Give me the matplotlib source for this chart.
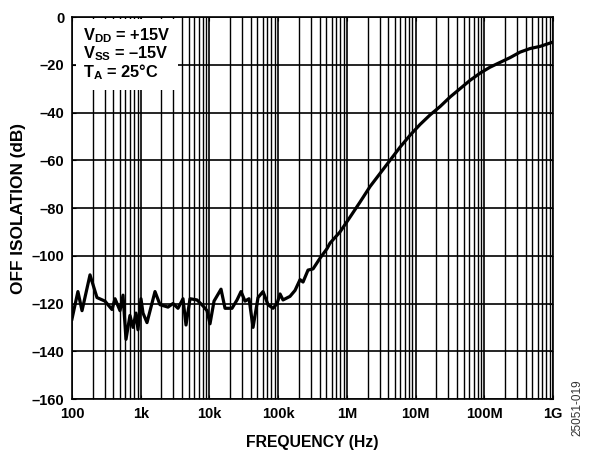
import numpy as np
import matplotlib
matplotlib.use("Agg")
import matplotlib.pyplot as plt
from matplotlib.ticker import LogLocator, NullFormatter

plt.rcParams['font.family'] = ['Liberation Sans', 'DejaVu Sans']
plt.rcParams['font.weight'] = 'bold'
plt.rcParams['mathtext.fontset'] = 'custom'
plt.rcParams['mathtext.rm'] = 'Liberation Sans:bold'
plt.rcParams['mathtext.bf'] = 'Liberation Sans:bold'

# OFF isolation vs frequency
freq_hz = [100, 122, 140, 183, 231, 302, 382, 423, 500, 553,
           611, 698, 773, 854, 913, 1010, 1080, 1235, 1615, 1910,
           2497, 2951, 3490, 4127, 4564, 5220, 6600, 8070, 9230, 10200,
           11670, 14750, 16870, 21320, 25230, 28840, 32980, 37710, 43130, 50990,
           60280, 71270, 84260, 96350, 106600, 117800, 148900, 176200, 208300, 230300,
           272300, 322200, 407300, 515200,
           569200, 795800, 1.113e6, 1.556e6, 2.176e6, 3.043e6, 4.255e6, 5.95e6,
           8.32e6, 1.163e7, 1.626e7, 2.274e7, 3.18e7, 4.446e7, 6.217e7, 8.69e7,
           1.215e8, 1.699e8, 2.376e8, 3.32e8, 4.64e8, 6.49e8, 1e9]
isolation_db = [-126.5, -115, -123, -108, -117.5, -119, -122.5, -118, -123, -116.5,
                -135, -125, -130, -124, -131, -118, -124, -128, -115, -120.5,
                -121.5, -120, -122, -118, -129, -118, -118.5, -121, -123, -128.5,
                -119, -114, -122, -122, -118.5, -115, -119, -118, -130, -117.5,
                -115, -120.5, -122, -120, -116, -118.5, -117, -114.5, -110, -111,
                -106, -105.5, -101, -97,
                -94.7, -90, -83.8, -77.5, -71, -65.5, -60, -54.5,
                -49.5, -45, -41, -37.5, -33.5, -30, -26.5, -23.5,
                -21, -19, -17, -14.7, -13.2, -12.3, -10.5]

x_ticks = [1e2, 1e3, 1e4, 1e5, 1e6, 1e7, 1e8, 1e9]
x_ticklabels = ['100', '1k', '10k', '100k', '1M', '10M', '100M', '1G']
y_ticks = [0, -20, -40, -60, -80, -100, -120, -140, -160]
y_ticklabels = ['0', '–20', '–40', '–60', '–80', '–100', '–120', '–140', '–160']

fig = plt.figure(figsize=(5.89, 4.5), dpi=100)
ax = fig.add_axes([0.1222, 0.1133, 0.8167, 0.8489])

ax.plot(freq_hz, isolation_db, color='black', lw=2.3, zorder=3)

ax.set_xscale('log')
ax.set_xlim(1e2, 1e9)
ax.set_ylim(-160, 0)
ax.set_xticks(x_ticks)
ax.set_xticklabels(x_ticklabels)
ax.xaxis.set_minor_locator(LogLocator(base=10, subs=np.arange(2, 10)))
ax.xaxis.set_minor_formatter(NullFormatter())
ax.set_yticks(y_ticks)
ax.set_yticklabels(y_ticklabels)

ax.set_axisbelow(True)
ax.grid(True, which='major', color='black', lw=1.2)
ax.grid(True, which='minor', axis='x', color='black', lw=1.0)
ax.tick_params(which='both', direction='in', top=True, right=True,
               labelsize=10.5, length=3, pad=5.5)
for s in ax.spines.values():
    s.set_linewidth(1.2)

ax.set_xlabel('FREQUENCY (Hz)', fontsize=11.3, fontweight='bold', labelpad=10)
ax.set_ylabel('OFF ISOLATION (dB)', fontsize=12.4, fontweight='bold', labelpad=4)

ax.text(0.023, 0.975,
        'V$_{\\mathbf{DD}}$ = +15V\nV$_{\\mathbf{SS}}$ = –15V\nT$_{\\mathbf{A}}$ = 25°C',
        transform=ax.transAxes, ha='left', va='top', fontsize=11.8,
        fontweight='bold', linespacing=0.95, zorder=1,
        bbox=dict(boxstyle='square,pad=0.45', fc='white', ec='none'))

fig.text(0.98, 0.093, '25051-019', rotation=90, fontsize=8.5,
         fontweight='normal', color='#333333', ha='center', va='center')

fig.savefig('out.png', dpi=100)
